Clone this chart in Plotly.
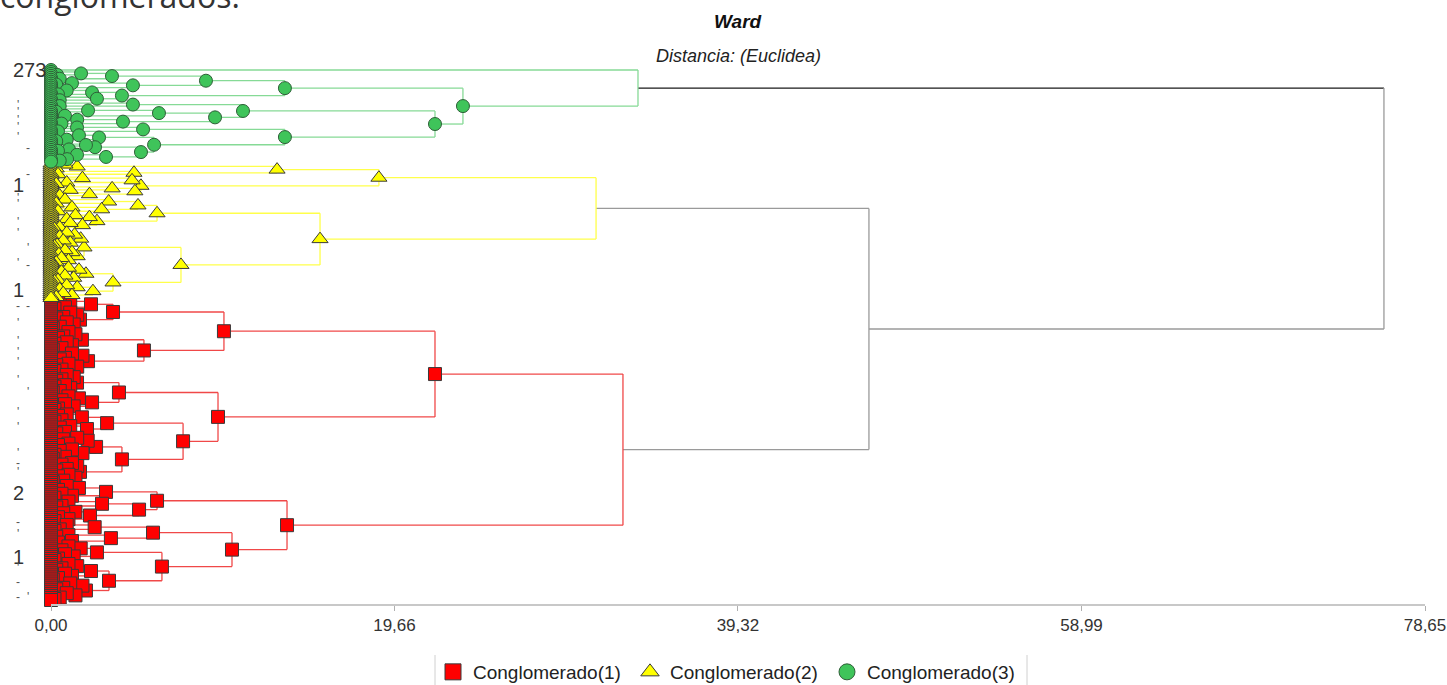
import plotly.graph_objects as go

# ---------------- data: Ward merge distances (Euclidean) ----------------
x_tick_vals = [0.0, 19.66, 39.32, 58.99, 78.65]
x_tick_text = ["0,00", "19,66", "39,32", "58,99", "78,65"]
x_max = 78.65

cluster_names = ["Conglomerado(1)", "Conglomerado(2)", "Conglomerado(3)"]

# object labels on the left (mostly truncated in the original)
y_label_leaf = [0, 59, 113, 217, 250]
y_label_text = ["273", "1", "1", "2", "1"]
frag_leaf = [18, 21.6, 25.7, 29.3, 34.4, 40, 53.4, 65.7, 68.8, 78, 83.7, 91.5, 99, 100, 121, 121,
             129.8, 139, 144.7, 149.9, 159, 165, 175.5, 183.2, 196.6, 201.7, 206.3,
             232, 238, 255.6, 263, 270.5, 270.5]
frag_text = ["'", "'", "'", "'", "'", "-", "-", "'", "'", "'", "'", "'", "'", "-", "-", "-",
             "'", "'", "'", "'", "'", "'", "'", "'", "'", "-", "'",
             "-", "'", "'", "-", "-", "'"]
frag_col = [0, 0, 0, 0, 0, 1, 1, 0, 0, 0, 0, 1, 0, 1, 0, 1,
            0, 0, 0, 0, 0, 1, 0, 0, 0, 0, 0,
            0, 0, 0, 0, 0, 1]

root_height = 76.30          # cluster 3 vs (cluster 2 + cluster 1)
yellow_red_height = 46.82    # cluster 2 vs cluster 1

# tree notation: [height, upper, lower] = merge ; tuple of heights = tight group of len+1 objects ; () = one object
# Cluster 3 (green)
green_a1 = [8.87, [3.49, (0.35, 1.72), (0.5,)], [4.69, (0.3, 1.2), ()]]
green_a2 = [4.06, (0.4, 0.9, 2.35), (0.5, 2.63)]
green_b1 = [10.99, (0.5, 4.69), [9.39, [6.18, (0.3, 2.12), (0.8,)], (0.6, 1.5, 4.12)]]
green_b2 = [13.39, (0.4, 1.49, 5.27),
            [5.90, (0.3, 0.9, 1.6, 2.75), [5.15, (0.4, 1.03, 2.0, 2.52), (0.5, 0.92, 1.49, 3.15)]]]
green_tree = [33.60, (), [23.58, [13.39, green_a1, green_a2], [21.98, green_b1, green_b2]]]

# Cluster 2 (yellow)
yellow_1 = [18.77, [12.94, (0.3, 0.8, 1.5), (0.4, 4.75)],
            [5.15, (0.3, 0.9, 1.8, 4.64), (0.5, 1.1, 2.2, 3.5, 4.8)]]
yellow_2a = [6.07, [4.98, (0.3, 0.8, 3.3), (0.4, 1.2, 2.9)], (0.2, 0.5, 0.9, 1.1, 1.4, 1.8, 2.2, 2.63)]
yellow_2b = [7.44, (0.1, 0.2, 0.3, 0.35, 0.45, 0.5, 0.6, 0.7, 0.8, 0.9, 1.0, 1.1, 1.2, 1.35, 1.5, 1.7, 1.89),
             [3.55, (0.2, 0.4, 0.6, 0.8, 1.0, 1.3, 1.6, 2.0), (0.3, 0.5, 0.7, 0.9, 1.2, 1.5, 2.4)]]
yellow_tree = [31.20, yellow_1, [15.40, yellow_2a, yellow_2b]]

# Cluster 1 (red)
red_1a = [9.90, [3.55, (0.2, 0.5, 0.8, 1.1, 2.29), (0.1, 0.3, 0.5, 0.7, 0.9, 1.1, 1.3, 1.5, 1.66)],
          [5.32, (0.1, 0.2, 0.4, 0.6, 0.7, 0.9, 1.0, 1.2, 1.4, 1.77),
           (0.2, 0.3, 0.5, 0.6, 0.8, 1.0, 1.2, 1.5, 1.8, 2.12)]]
red_1b = [9.56, [3.89, (0.1, 0.2, 0.3, 0.5, 0.6, 0.8, 0.9, 1.1, 1.3, 1.49), (0.2, 0.4, 0.6, 0.8, 1.0, 1.3, 1.6, 2.35)],
          [7.56, [3.21, (0.2, 0.4, 0.6, 0.9, 1.77), (0.3, 0.5, 0.8, 1.1, 2.06)],
           [4.06, (0.1, 0.2, 0.4, 0.5, 0.7, 0.8, 1.0, 1.2, 1.5, 1.8, 2.1, 2.58),
            (0.1, 0.3, 0.4, 0.6, 0.7, 0.9, 1.0, 1.2, 1.4, 1.5, 1.66)]]]
red_2a = [6.07, (0.2, 0.4, 0.6, 0.9, 1.2, 1.6, 3.15), [5.04, (0.3, 0.6, 1.0, 2.92), (0.2, 0.4, 0.7, 1.0, 1.4, 2.23)]]
red_2b = [10.36, [5.84, (0.2, 0.5, 0.9, 2.5), [3.43, (0.3, 1.0), (0.4, 1.2)]],
          [6.35, (0.2, 0.4, 0.6, 0.8, 1.0, 1.3, 1.7, 2.63),
           [3.32, (0.1, 0.3, 0.4, 0.6, 0.8, 1.0, 1.2, 1.5, 2.29), (0.2, 0.3, 0.5, 0.7, 0.9, 1.1, 1.4, 1.8, 2.0)]]]
red_tree = [32.74, [21.98, red_1a, red_1b], [13.51, red_2a, red_2b]]

# ---------------- styles ----------------
line_col = {"red": "#f04848", "yellow": "#ffff4a", "green": "#86da96"}
link_grey = "#9a9a9a"
link_black = "#1a1a1a"
mk_style = {
    "red": dict(symbol="square", size=13, color="#ff0000", line=dict(color="#3a3a3a", width=1)),
    "yellow": dict(symbol="triangle-up", size=14, color="#ffff00", line=dict(color="#3a3a3a", width=1)),
    "green": dict(symbol="circle", size=13, color="#3fc45a", line=dict(color="#2f5e38", width=1)),
}


# ---------------- build tree ----------------
def clump(hs, tag):
    n = len(hs) + 1
    if n == 1:
        return {"h": 0.0, "tag": tag, "kids": None}
    root, rest = hs[0], hs[1:]
    nl = n // 2
    nr = n - nl
    lh, rh = [], []
    for h in rest:
        if len(lh) < nl - 1 and (len(rh) >= nr - 1 or len(lh) <= len(rh)):
            lh.append(h)
        else:
            rh.append(h)
    return {"h": root, "tag": tag, "kids": [clump(lh, tag), clump(rh, tag)]}


def expand(spec, tag):
    if isinstance(spec, tuple):
        return clump(sorted(spec, reverse=True), tag)
    h, a, b = spec
    return {"h": h, "tag": tag, "kids": [expand(a, tag), expand(b, tag)]}


G = expand(green_tree, "green")
Y = expand(yellow_tree, "yellow")
R = expand(red_tree, "red")
for c in (G, Y, R):
    c["croot"] = True
N = {"h": yellow_red_height, "tag": "top", "kids": [Y, R]}
ROOT = {"h": root_height, "tag": "top", "kids": [G, N]}

counter = [0]


def place(n):
    if n["kids"] is None:
        n["y"] = counter[0]
        counter[0] += 1
    else:
        for k in n["kids"]:
            place(k)
        n["y"] = sum(k["y"] for k in n["kids"]) / len(n["kids"])


place(ROOT)
n_leaves = counter[0]

segs = {}
marks = {"red": ([], []), "yellow": ([], []), "green": ([], [])}


def add(col, x0, y0, x1, y1):
    xs, ys = segs.setdefault(col, ([], []))
    xs += [x0, x1, None]
    ys += [y0, y1, None]


def draw(n):
    if n["tag"] != "top" and not n.get("croot"):
        marks[n["tag"]][0].append(n["h"])
        marks[n["tag"]][1].append(n["y"])
    if n["kids"] is None:
        return
    for k in n["kids"]:
        if n["tag"] == "top":
            col = link_black if k["tag"] == "green" else link_grey
        else:
            col = line_col[n["tag"]]
        add(col, k["h"], k["y"], n["h"], k["y"])
    vcol = link_grey if n["tag"] == "top" else line_col[n["tag"]]
    add(vcol, n["h"], n["kids"][0]["y"], n["h"], n["kids"][-1]["y"])
    for k in n["kids"]:
        draw(k)


draw(ROOT)

fig = go.Figure()
for col, (xs, ys) in segs.items():
    fig.add_trace(go.Scatter(x=xs, y=ys, mode="lines", line=dict(color=col, width=1.3),
                             hoverinfo="skip", showlegend=False))

for key, name in zip(["red", "yellow", "green"], cluster_names):
    xs, ys = marks[key]
    fig.add_trace(go.Scatter(x=xs, y=ys, mode="markers", name=name, marker=mk_style[key],
                             cliponaxis=False, showlegend=False))
for key, name in zip(["red", "yellow", "green"], cluster_names):
    st = dict(mk_style[key])
    st["size"] = 16
    fig.add_trace(go.Scatter(x=[None], y=[None], mode="markers", name=name, marker=st, showlegend=True))

FONT = "Liberation Sans, Arial, sans-serif"
W, H = 1447, 685
ML, MR, MT, MB = 51, 22, 62, 81
PW, PH = W - ML - MR, H - MT - MB


def px_x(px):
    return (px - ML) / PW


def px_y(py):
    return (H - MB - py) / PH


annotations = [
    dict(text="<b><i>Ward</i></b>", xref="paper", yref="paper", x=0.5, y=px_y(22),
         xanchor="center", yanchor="middle", showarrow=False,
         font=dict(family=FONT, size=19, color="#111111")),
    dict(text="<i>Distancia: (Euclidea)</i>", xref="paper", yref="paper", x=0.5, y=px_y(56),
         xanchor="center", yanchor="middle", showarrow=False,
         font=dict(family=FONT, size=18, color="#222222")),
    dict(text="conglomerados.", xref="paper", yref="paper", x=px_x(-2), y=px_y(-5),
         xanchor="left", yanchor="middle", showarrow=False,
         font=dict(family="Open Sans, Noto Sans, sans-serif", size=32, color="#333333")),
]
for lf, tx in zip(y_label_leaf, y_label_text):
    annotations.append(dict(text=tx, xref="paper", yref="y", x=px_x(11), y=lf, xanchor="left",
                            yanchor="middle", showarrow=False,
                            font=dict(family=FONT, size=20, color="#333333")))
for lf, tx, c in zip(frag_leaf, frag_text, frag_col):
    annotations.append(dict(text=tx, xref="paper", yref="y", x=px_x(18 if c == 0 else 28), y=lf,
                            xanchor="center", yanchor="middle", showarrow=False,
                            font=dict(family=FONT, size=12, color="#555555")))

shapes = []
for bx in (435, 1027):
    shapes.append(dict(type="line", xref="paper", yref="paper", x0=px_x(bx), x1=px_x(bx),
                       y0=px_y(655), y1=px_y(690), line=dict(color="#d0d0d0", width=1)))

fig.update_layout(
    width=W, height=H,
    margin=dict(l=ML, r=MR, t=MT, b=MB, autoexpand=False),
    paper_bgcolor="white", plot_bgcolor="white",
    font=dict(family=FONT, size=17, color="#333333"),
    showlegend=True,
    legend=dict(orientation="h", x=px_x(433), xanchor="left", y=px_y(653), yanchor="top",
                font=dict(size=19, color="#222222"), itemsizing="trace",
                entrywidth=152, entrywidthmode="pixels",
                borderwidth=0, bgcolor="rgba(0,0,0,0)"),
    xaxis=dict(range=[0, x_max], tickvals=x_tick_vals, ticktext=x_tick_text,
               showgrid=False, zeroline=False, showline=True, linecolor="#c8c8c8", linewidth=1.5,
               ticks="outside", ticklen=5, tickcolor="#b0b0b0",
               tickfont=dict(size=17, color="#333333")),
    yaxis=dict(range=[n_leaves + 1.05, -4.1], showticklabels=False,
               showgrid=False, zeroline=False, showline=False, ticks=""),
    annotations=annotations,
    shapes=shapes,
)

fig.write_html("out.html", config={"displayModeBar": False},
               post_script="document.body.style.margin='0px';document.body.style.overflow='hidden';")
